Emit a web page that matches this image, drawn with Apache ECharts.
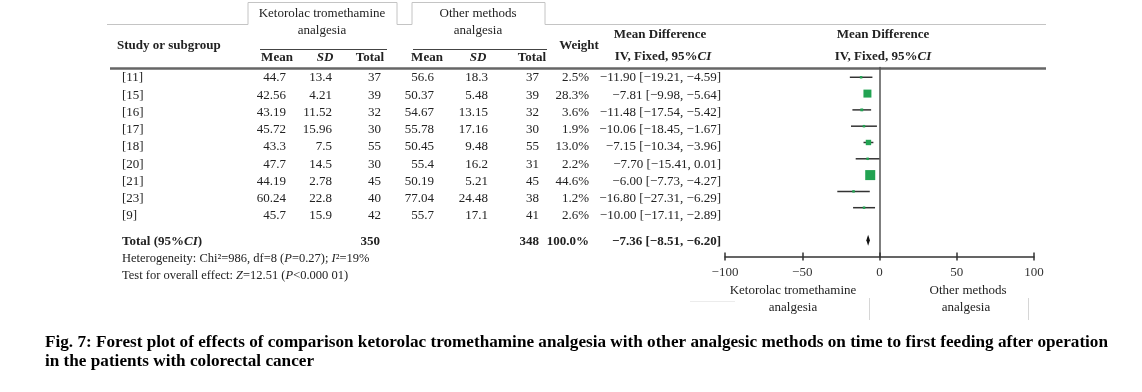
<!DOCTYPE html>
<html><head><meta charset="utf-8">
<script src="https://cdn.jsdelivr.net/npm/echarts@6/dist/echarts.min.js"></script>
<style>html,body{margin:0;padding:0;background:#fff}#c{width:1142px;height:392px}</style>
</head><body><div id="c"></div>
<script>
// ---------- data ----------
const studies = ['[11]','[15]','[16]','[17]','[18]','[20]','[21]','[23]','[9]'];
const ketMean = [44.7, 42.56, 43.19, 45.72, 43.3, 47.7, 44.19, 60.24, 45.7];
const ketSD   = [13.4, 4.21, 11.52, 15.96, 7.5, 14.5, 2.78, 22.8, 15.9];
const ketN    = [37, 39, 32, 30, 55, 30, 45, 40, 42];
const othMean = [56.6, 50.37, 54.67, 55.78, 50.45, 55.4, 50.19, 77.04, 55.7];
const othSD   = [18.3, 5.48, 13.15, 17.16, 9.48, 16.2, 5.21, 24.48, 17.1];
const othN    = [37, 39, 32, 30, 55, 31, 45, 38, 41];
const weight  = [2.5, 28.3, 3.6, 1.9, 13.0, 2.2, 44.6, 1.2, 2.6];
const md      = [-11.90, -7.81, -11.48, -10.06, -7.15, -7.70, -6.00, -16.80, -10.00];
const ciLow   = [-19.21, -9.98, -17.54, -18.45, -10.34, -15.41, -7.73, -27.31, -17.11];
const ciHigh  = [-4.59, -5.64, -5.42, -1.67, -3.96, 0.01, -4.27, -6.29, -2.89];
const totalKetN = 350, totalOthN = 348, totalWeight = 100.0;
const totalMD = -7.36, totalLow = -8.51, totalHigh = -6.20;
const tickValues = [-100, -50, 0, 50, 100];
const heterogeneityText = 'Heterogeneity: Chi\u00b2=986, df=8 ({i|P}=0.27); {i|I}\u00b2=19%';
const overallText = 'Test for overall effect: {i|Z}=12.51 ({i|P}<0.000 01)';
const favourLeft = ['Ketorolac tromethamine', 'analgesia'];
const favourRight = ['Other methods', 'analgesia'];
const caption1 = 'Fig. 7: Forest plot of effects of comparison ketorolac tromethamine analgesia with other analgesic methods on time to first feeding after operation';
const caption2 = 'in the patients with colorectal cancer';

// ---------- helpers ----------
const MINUS = '\u2212';
function fmt(v, d) { const s = d == null ? String(Math.abs(v)) : Math.abs(v).toFixed(d); return (v < 0 ? MINUS : '') + s; }
function ci(m, lo, hi) { return fmt(m, 2) + ' [' + fmt(lo, 2) + ', ' + fmt(hi, 2) + ']'; }
const FF = '"Liberation Serif", "Times New Roman", serif';
const TXT = '#222';
const G = [];
function txt(x, y, text, opt) {
  opt = opt || {};
  const size = opt.size || 13;
  const weightF = opt.bold ? 'bold' : 'normal';
  const styleF = opt.italic ? 'italic' : 'normal';
  const el = {
    type: 'text', x: x, y: y, silent: true,
    style: {
      text: text, fill: opt.color || TXT,
      font: styleF + ' ' + weightF + ' ' + size + 'px ' + FF,
      fontFamily: FF, fontSize: size, fontWeight: weightF, fontStyle: styleF,
      textAlign: opt.align || 'left', align: opt.align || 'left',
      textVerticalAlign: 'middle', verticalAlign: 'middle',
      rich: {
        i: { fontStyle: 'italic', fontWeight: weightF, fontSize: size, fontFamily: FF, fill: opt.color || TXT, color: opt.color || TXT },
        n: { fontWeight: weightF, fontSize: size, fontFamily: FF, fill: opt.color || TXT, color: opt.color || TXT }
      }
    }
  };
  if (opt.scaleX) { el.scaleX = opt.scaleX; el.originX = 0; el.originY = 0; }
  G.push(el);
}
function line(pts, color, w) {
  G.push({ type: 'polyline', silent: true, shape: { points: pts }, style: { stroke: color, lineWidth: w, fill: null } });
}

// ---------- table lines ----------
line([[107,24.5],[248,24.5],[248,2.5],[397,2.5],[397,24.5],[412,24.5],[412,2.5],[545,2.5],[545,24.5],[1046,24.5]], '#c4c4c4', 1);
line([[260,49.5],[387,49.5]], '#444', 1.2);
line([[413,49.5],[547,49.5]], '#444', 1.2);
line([[110,68.5],[1046,68.5]], '#666', 2.5);
line([[690,301.5],[735,301.5]], '#ececec', 1);
line([[869.5,298],[869.5,320]], '#d6d6d6', 1);
line([[1028.5,298],[1028.5,320]], '#d6d6d6', 1);

// ---------- headers ----------
txt(322, 14, 'Ketorolac tromethamine', { align: 'center' });
txt(322, 31, 'analgesia', { align: 'center' });
txt(478, 14, 'Other methods', { align: 'center' });
txt(478, 31, 'analgesia', { align: 'center' });
txt(117, 46, 'Study or subgroup', { bold: true });
txt(277, 58, 'Mean', { bold: true, align: 'center' });
txt(325, 58, 'SD', { bold: true, italic: true, align: 'center' });
txt(370, 58, 'Total', { bold: true, align: 'center' });
txt(427, 58, 'Mean', { bold: true, align: 'center' });
txt(478, 58, 'SD', { bold: true, italic: true, align: 'center' });
txt(532, 58, 'Total', { bold: true, align: 'center' });
txt(579, 46, 'Weight', { bold: true, align: 'center' });
txt(660, 35, 'Mean Difference', { bold: true, align: 'center' });
txt(663, 57, 'IV, Fixed, 95%{i|CI}', { bold: true, align: 'center' });
txt(883, 35, 'Mean Difference', { bold: true, align: 'center' });
txt(883, 57, 'IV, Fixed, 95%{i|CI}', { bold: true, align: 'center' });

// ---------- rows ----------
const rowY0 = 78, rowStep = 17.25;
studies.forEach(function (s, i) {
  const y = rowY0 + i * rowStep;
  txt(122, y, s);
  txt(286, y, fmt(ketMean[i]), { align: 'right' });
  txt(332, y, fmt(ketSD[i]), { align: 'right' });
  txt(381, y, String(ketN[i]), { align: 'right' });
  txt(434, y, fmt(othMean[i]), { align: 'right' });
  txt(488, y, fmt(othSD[i]), { align: 'right' });
  txt(539, y, String(othN[i]), { align: 'right' });
  txt(589, y, weight[i].toFixed(1) + '%', { align: 'right' });
  txt(721, y, ci(md[i], ciLow[i], ciHigh[i]), { align: 'right' });
});
txt(122, 242, 'Total (95%{i|CI})', { bold: true });
txt(380, 242, String(totalKetN), { bold: true, align: 'right' });
txt(539, 242, String(totalOthN), { bold: true, align: 'right' });
txt(589, 242, totalWeight.toFixed(1) + '%', { bold: true, align: 'right' });
txt(721, 242, ci(totalMD, totalLow, totalHigh), { bold: true, align: 'right' });
txt(122, 259, heterogeneityText, { size: 12.5 });
txt(122, 276, overallText, { size: 12.5 });

// favour labels
txt(793, 291, favourLeft[0], { align: 'center' });
txt(793, 308, favourLeft[1], { align: 'center' });
txt(968, 291, favourRight[0], { align: 'center' });
txt(966, 308, favourRight[1], { align: 'center' });

// caption (condensed bold serif)
const cv = document.createElement('canvas').getContext('2d');
cv.font = 'bold 17px ' + FF;
const capScale = 1063 / cv.measureText(caption1).width;
txt(45, 343, caption1, { bold: true, size: 17, color: '#000', scaleX: capScale });
txt(45, 362, caption2, { bold: true, size: 17, color: '#000', scaleX: capScale });

// ---------- forest plot ----------
const gridRect = { left: 725, top: 67.5, width: 309, height: 189.1 };
const xMin = tickValues[0], xMax = tickValues[tickValues.length - 1], xInt = tickValues[1] - tickValues[0];
const studyData = studies.map(function (_, i) { return [md[i], i, ciLow[i], ciHigh[i], weight[i]]; });
const totalRow = studies.length + 1;

const chart = echarts.init(document.getElementById('c'), null, { renderer: 'canvas' });
chart.setOption({
  backgroundColor: '#fff',
  animation: false,
  grid: [
    Object.assign({}, gridRect),
    Object.assign({}, gridRect)
  ],
  xAxis: [
    {
      type: 'value', gridIndex: 0, min: xMin, max: xMax, interval: xInt,
      axisLine: { show: true, onZero: false, lineStyle: { color: '#333', width: 1.5 } },
      axisTick: { show: true, inside: false, length: 4, lineStyle: { color: '#333', width: 1.5 } },
      axisLabel: {
        show: true, margin: 9, color: '#333', fontSize: 13, fontFamily: FF,
        formatter: function (v) { return fmt(v); }
      },
      splitLine: { show: false }
    },
    {
      type: 'value', gridIndex: 1, min: xMin, max: xMax, interval: xInt,
      axisLine: { show: false, onZero: false },
      axisTick: { show: true, inside: true, length: 4, lineStyle: { color: '#333', width: 1.5 } },
      axisLabel: { show: false },
      splitLine: { show: false }
    }
  ],
  yAxis: [
    {
      type: 'value', gridIndex: 0, inverse: true, min: -0.6, max: 11,
      axisLine: { show: true, onZero: true, lineStyle: { color: '#555', width: 1.5 } },
      axisTick: { show: false }, axisLabel: { show: false }, splitLine: { show: false }
    },
    { type: 'value', gridIndex: 1, inverse: true, min: -0.6, max: 11, show: false }
  ],
  series: [
    {
      type: 'custom', xAxisIndex: 0, yAxisIndex: 0, silent: true,
      encode: { x: [0, 2, 3], y: 1 },
      data: studyData,
      renderItem: function (params, api) {
        const y = api.value(1);
        const pLo = api.coord([api.value(2), y]);
        const pHi = api.coord([api.value(3), y]);
        const pM = api.coord([api.value(0), y]);
        const s = Math.max(2.5, 1.5 * Math.sqrt(api.value(4)));
        return {
          type: 'group', children: [
            { type: 'line', shape: { x1: pLo[0], y1: pLo[1], x2: pHi[0], y2: pHi[1] }, style: { stroke: '#333', lineWidth: 1.5 } },
            { type: 'rect', shape: { x: pM[0] - s / 2, y: pM[1] - s / 2, width: s, height: s }, style: { fill: '#22a352' } }
          ]
        };
      }
    },
    {
      type: 'custom', xAxisIndex: 0, yAxisIndex: 0, silent: true,
      encode: { x: [0, 2, 3], y: 1 },
      data: [[totalMD, totalRow, totalLow, totalHigh]],
      renderItem: function (params, api) {
        const y = api.value(1);
        const pLo = api.coord([api.value(2), y]);
        const pHi = api.coord([api.value(3), y]);
        const pM = api.coord([api.value(0), y]);
        return {
          type: 'polygon',
          shape: { points: [[pLo[0], pLo[1]], [pM[0], pM[1] - 5.5], [pHi[0], pHi[1]], [pM[0], pM[1] + 5.5]] },
          style: { fill: '#111' }
        };
      }
    }
  ],
  graphic: { elements: G }
});
</script>
</body></html>
